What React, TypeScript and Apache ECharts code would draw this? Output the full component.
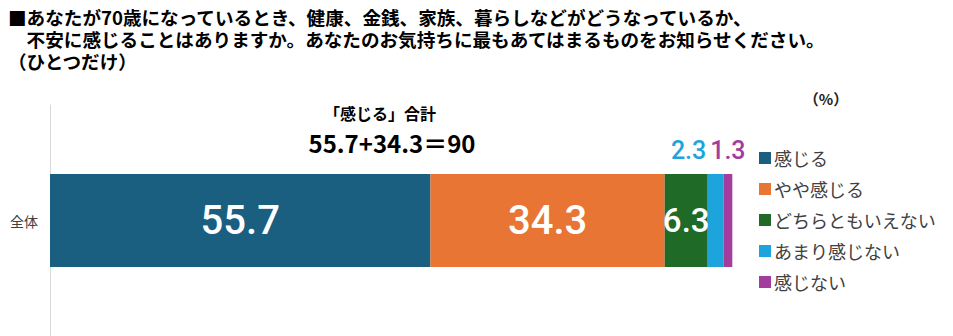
import React, { useEffect, useRef } from "react";
import * as echarts from "echarts";

const categories = ["全体"];
const seriesNames = ["感じる", "やや感じる", "どちらともいえない", "あまり感じない", "感じない"];
const seriesValues = [55.7, 34.3, 6.3, 2.3, 1.3];
const seriesColors = ["#1a5e80", "#e87534", "#1f6a27", "#1ea4dc", "#a23d9e"];
const titleLines = [
  "■あなたが70歳になっているとき、健康、金銭、家族、暮らしなどがどうなっているか、",
  "　不安に感じることはありますか。あなたのお気持ちに最もあてはまるものをお知らせください。",
  "（ひとつだけ）",
];
const sumCaption = "「感じる」合計";
const sumFormula = "55.7+34.3＝90";
const unitLabel = "（%）";

const CJK = '"Noto Sans CJK JP", "Noto Sans", sans-serif';
const NUM = 'Roboto, "Noto Sans", sans-serif';

export default function App() {
  const ref = useRef<HTMLDivElement>(null);
  useEffect(() => {
    document.body.style.margin = "0";
    const chart = echarts.init(ref.current!, null, { renderer: "svg" });
    const insideSizes = [40, 40, 33];
    const series = seriesNames.map((name, i) => {
      const inside = i < 3;
      return {
        name,
        type: "bar",
        stack: "total",
        barWidth: 93,
        data: [seriesValues[i]],
        itemStyle: { color: seriesColors[i] },
        label: {
          show: true,
          position: inside ? "inside" : "top",
          distance: 11,
          offset: i === 3 ? [-27, 0] : [0, 0],
          formatter: (p: any) => p.value.toFixed(1),
          color: inside ? "#ffffff" : seriesColors[i],
          fontFamily: NUM,
          fontWeight: 500,
          fontSize: inside ? insideSizes[i] : 25,
        },
      };
    });
    chart.setOption({
      animation: false,
      backgroundColor: "#ffffff",
      grid: { left: 50, right: 220, top: 105, bottom: 0, containLabel: false },
      xAxis: {
        type: "value",
        min: 0,
        max: 100,
        show: false,
      },
      yAxis: {
        type: "category",
        data: categories,
        axisLine: { show: true, lineStyle: { color: "#d9d9d9", width: 1 } },
        axisTick: { show: false },
        axisLabel: { color: "#404040", fontSize: 14, fontFamily: CJK, margin: 12 },
      },
      legend: {
        orient: "vertical",
        left: 754,
        top: 144,
        itemWidth: 12,
        itemHeight: 12,
        itemGap: 13,
        icon: "rect",
        data: seriesNames,
        textStyle: { color: "#404040", fontSize: 18, fontFamily: CJK, padding: [0, 0, 0, -2] },
      },
      graphic: [
        {
          type: "text",
          left: 8,
          top: 5,
          style: {
            text: titleLines.join("\n"),
            fontSize: 18.6,
            lineHeight: 22,
            fontWeight: "bold",
            fontFamily: CJK,
            fill: "#000000",
          },
        },
        {
          type: "text",
          x: 380,
          y: 113,
          style: {
            text: sumCaption,
            fontSize: 16,
            lineHeight: 17,
            fontWeight: "bold",
            fontFamily: CJK,
            fill: "#000000",
            align: "center",
            verticalAlign: "middle",
          },
        },
        {
          type: "text",
          x: 392,
          y: 142,
          style: {
            text: sumFormula,
            fontSize: 24,
            lineHeight: 25,
            fontWeight: "bold",
            fontFamily: CJK,
            fill: "#000000",
            align: "center",
            verticalAlign: "middle",
          },
        },
        {
          type: "text",
          x: 826,
          y: 98,
          style: {
            text: unitLabel,
            fontSize: 15,
            fontWeight: "bold",
            fontFamily: CJK,
            fill: "#222222",
            align: "center",
            verticalAlign: "middle",
          },
        },
      ],
      series,
    });
    return () => chart.dispose();
  }, []);
  return <div ref={ref} style={{ width: 953, height: 336 }} />;
}
